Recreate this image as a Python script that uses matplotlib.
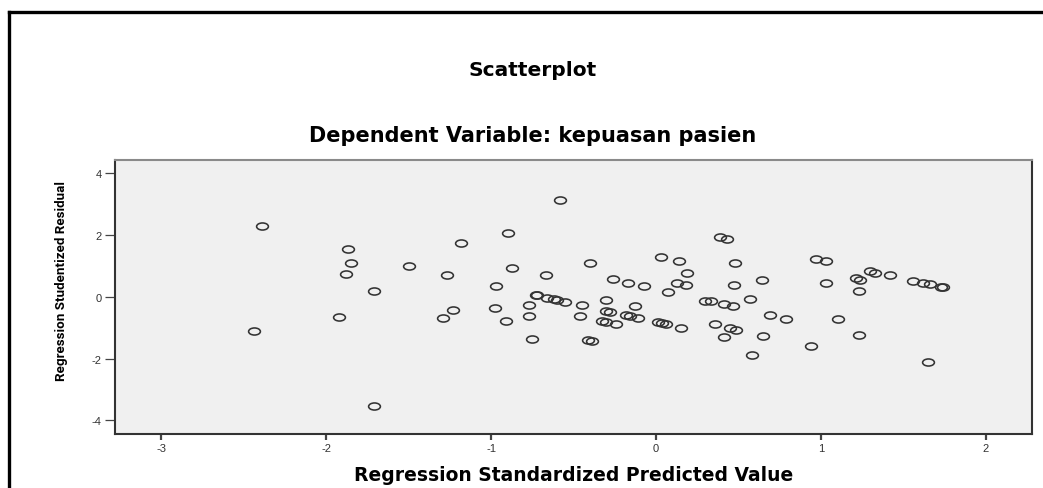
import numpy as np
import matplotlib
matplotlib.use("Agg")
import matplotlib.pyplot as plt
from matplotlib.path import Path
from matplotlib.lines import Line2D

pred = [-2.44, -2.39, -1.92, -1.88, -1.87, -1.85, -1.71, -1.71, -1.50, -1.29,
        -1.265, -1.23, -1.18, -0.976, -0.97, -0.91, -0.895, -0.87, -0.77, -0.77,
        -0.75, -0.73, -0.72, -0.665, -0.66, -0.62, -0.60, -0.58, -0.55, -0.46,
        -0.45, -0.41, -0.40, -0.385, -0.33, -0.30, -0.30, -0.30, -0.28, -0.26,
        -0.24, -0.18, -0.17, -0.16, -0.127, -0.11, -0.075, 0.01, 0.03, 0.035,
        0.06, 0.07, 0.13, 0.14, 0.15, 0.18, 0.19, 0.30, 0.335, 0.36,
        0.39, 0.41, 0.41, 0.43, 0.45, 0.465, 0.475, 0.48, 0.485, 0.57,
        0.58, 0.645, 0.65, 0.69, 0.79, 0.94, 0.97, 1.03, 1.03, 1.105,
        1.21, 1.23, 1.23, 1.24, 1.30, 1.33, 1.42, 1.56, 1.62, 1.65,
        1.66, 1.73, 1.74]
resid = [-1.11, 2.29, -0.66, 0.73, 1.54, 1.08, 0.17, -3.52, 1.00, -0.70,
         0.71, -0.42, 1.73, -0.36, 0.35, -0.80, 2.05, 0.94, -0.26, -0.61,
         -1.36, 0.06, 0.07, 0.70, -0.04, -0.07, -0.10, 3.14, -0.16, -0.62,
         -0.27, -1.41, 1.10, -1.42, -0.79, -0.10, -0.46, -0.81, -0.48, 0.56,
         -0.88, -0.60, 0.45, -0.61, -0.31, -0.68, 0.34, -0.83, 1.28, -0.85,
         -0.87, 0.16, 0.44, 1.16, -1.02, 0.39, 0.75, -0.13, -0.15, -0.89,
         1.93, -0.25, -1.31, 1.87, -1.00, -0.30, 0.39, 1.08, -1.07, -0.06,
         -1.88, 0.55, -1.26, -0.58, -0.71, -1.60, 1.22, 1.16, 0.44, -0.73,
         0.61, 0.19, -1.24, 0.55, 0.83, 0.78, 0.69, 0.51, 0.44, -2.11,
         0.40, 0.31, 0.30]

x_ticks = [-3, -2, -1, 0, 1, 2]
y_ticks = [-4, -2, 0, 2, 4]

W, H = 1043, 489
fig = plt.figure(figsize=(W / 100, H / 100), dpi=100)
fig.patch.set_facecolor("white")

# plot box in pixels: left 115, right 1032, top 161, bottom 435
ax = fig.add_axes([115 / W, 1 - 435 / H, (1032 - 115) / W, (435 - 161) / H])
ax.set_facecolor("#f0f0f0")

# flattened circle, like the stretched SPSS markers
circ = Path.unit_circle()
ell = Path(circ.vertices * np.array([1.0, 0.6]), circ.codes)
ax.plot(pred, resid, linestyle="none", marker=ell, markersize=8.5,
        markerfacecolor="none", markeredgecolor="#333333", markeredgewidth=1.15)

ax.set_xlim(-3.28, 2.28)
ax.set_ylim(-4.44, 4.42)
ax.set_xticks(x_ticks)
ax.set_yticks(y_ticks)
ax.set_xticklabels([str(v) for v in x_ticks])
ax.set_yticklabels([str(v) for v in y_ticks])

for side in ["left", "bottom", "right"]:
    ax.spines[side].set_color("#333333")
    ax.spines[side].set_linewidth(1.5)
ax.spines["top"].set_color("#8a8a8a")
ax.spines["top"].set_linewidth(1.5)

ax.tick_params(axis="x", direction="out", length=4.5, width=1.6, color="#444444",
               pad=2, labelsize=8, labelcolor="#333333")
ax.tick_params(axis="y", direction="out", length=7.5, width=0.9, color="#444444",
               pad=2, labelsize=8, labelcolor="#333333")
for lab in ax.get_xticklabels() + ax.get_yticklabels():
    lab.set_family(["Liberation Sans", "DejaVu Sans"])

ax.set_xlabel("Regression Standardized Predicted Value", fontsize=13.5,
              fontweight="bold", family=["DejaVu Sans"], va="center")
ax.xaxis.set_label_coords(0.5, (435 - 476) / 274)
ax.set_ylabel("Regression Studentized Residual", fontsize=9.6,
              fontweight="bold", family=["Roboto", "DejaVu Sans"], va="center")
ax.yaxis.set_label_coords((62 - 115) / 917, (435 - 281) / 274)

fig.text(533 / W, 1 - 70 / H, "Scatterplot", ha="center", va="center",
         fontsize=14.5, fontweight="bold", family=["DejaVu Sans"])
fig.text(533 / W, 1 - 136 / H, "Dependent Variable: kepuasan pasien",
         ha="center", va="center", fontsize=15, fontweight="bold",
         family=["DejaVu Sans"])

# outer frame (top and left edges only)
fig.add_artist(Line2D([9 / W, 1.0], [1 - 13 / H, 1 - 13 / H],
                      transform=fig.transFigure, color="black", linewidth=2.4))
fig.add_artist(Line2D([9 / W, 9 / W], [1 - 13 / H, 0.0],
                      transform=fig.transFigure, color="black", linewidth=2.4))

fig.savefig("out.png", dpi=100)
